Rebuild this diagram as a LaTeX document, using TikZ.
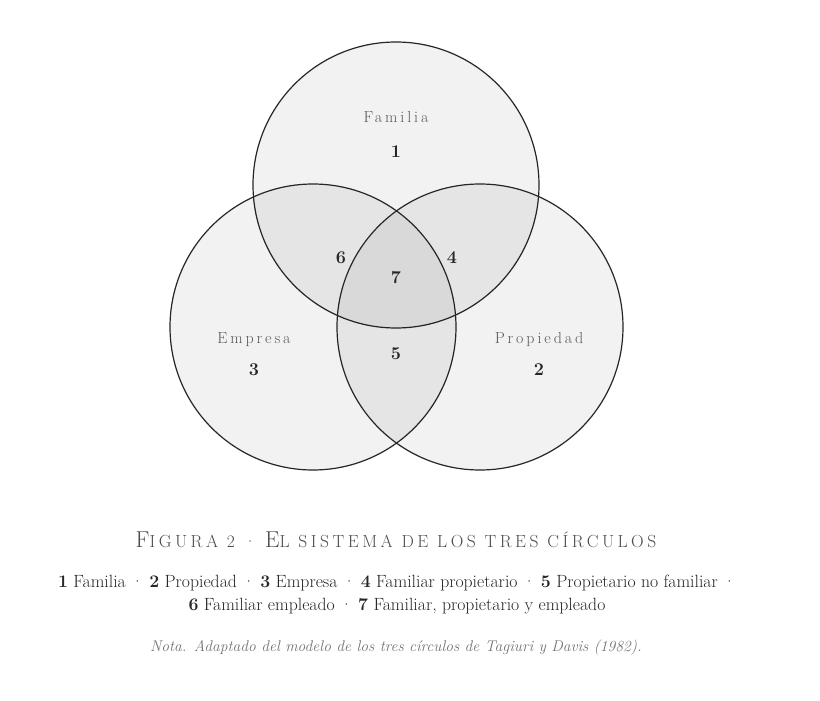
\documentclass[tikz,border=0pt]{standalone}
\usepackage{fontspec}
\setmainfont{Latin Modern Roman}
\newcommand{\fakesc}[1]{{\fontsize{17.5}{20}\selectfont\addfontfeature{LetterSpace=20}#1}}
\begin{document}
\begin{tikzpicture}[x=1pt,y=-1pt,
  circ/.style={draw=black!85,line width=1.2pt,fill=black,fill opacity=0.05},
  lab/.style={text=black!65,font=\fontsize{16}{18}\selectfont\addfontfeature{LetterSpace=18}},
  num/.style={text=black!85,font=\fontsize{18}{20}\selectfont\bfseries}]
\useasboundingbox (0,0) rectangle (820,701);
\fill[white] (0,0) rectangle (820,701);
\draw[circ] (396,185) circle (143);
\draw[circ] (313,327) circle (143);
\draw[circ] (480,327) circle (143);
\node[lab] (tf) at (396,117) {Familia};
\node[num] (n1) at (396,152) {1};
\node[lab] (te) at (254,340) {Empresa};
\node[num] (n3) at (254,370) {3};
\node[lab] (tp) at (539,340) {Propiedad};
\node[num] (n2) at (539,370) {2};
\node[num] (n6) at (341,258) {6};
\node[num] (n4) at (452,258) {4};
\node[num] (n7) at (396,278) {7};
\node[num] (n5) at (396,354) {5};
\node[text=black!70,font=\fontsize{23}{26}\selectfont] (cap) at (396,540) {F\fakesc{IGURA 2 · }E\fakesc{L SISTEMA DE LOS TRES CÍRCULOS}};
\node[text=black!85,font=\fontsize{17.7}{21}\selectfont,align=center] (leg) at (397,595) {\textbf{1} Familia · \textbf{2} Propiedad · \textbf{3} Empresa · \textbf{4} Familiar propietario · \textbf{5} Propietario no familiar ·\\[2pt]\textbf{6} Familiar empleado · \textbf{7} Familiar, propietario y empleado};
\node[text=black!55,font=\fontsize{15.5}{18}\selectfont\itshape] (nota) at (396,648) {Nota. Adaptado del modelo de los tres círculos de Tagiuri y Davis (1982).};
\end{tikzpicture}
\end{document}
